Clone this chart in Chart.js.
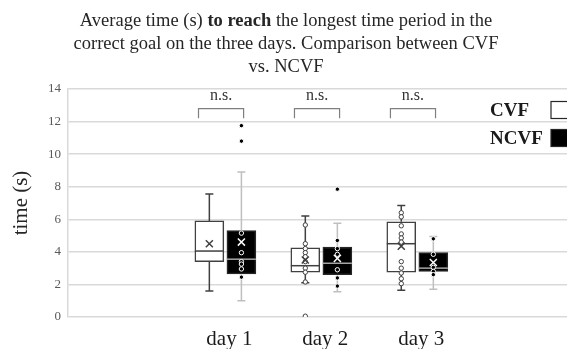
<!DOCTYPE html>
<html>
<head>
<meta charset="utf-8">
<script src="https://cdn.jsdelivr.net/npm/chart.js@4.4.0/dist/chart.umd.min.js"></script>
<style>
  html, body { margin: 0; padding: 0; background: #ffffff; overflow: hidden; }
  canvas { display: block; }
</style>
</head>
<body>
<canvas id="boxChart" width="567" height="349"></canvas>
<script>
// =========================================
// DATA
// =========================================

const dayLabels = ["day 1", "day 2", "day 3"];

const cvfMin    = [1.6, 2.1, 1.65];
const cvfQ1     = [3.4, 2.75, 2.75];
const cvfMedian = [4.05, 3.15, 4.5];
const cvfQ3     = [5.9, 4.25, 5.85];
const cvfMax    = [7.55, 6.2, 6.85];
const cvfMean   = [4.5, 3.5, 4.35];
const cvfPoints = [
  [],
  [5.65, 4.5, 4.2, 3.95, 3.7, 3.4, 3.0, 2.75, 2.15, 0.05],
  [6.4, 6.15, 5.6, 5.1, 4.85, 4.6, 3.4, 3.0, 2.7, 2.35, 2.05]
];

const ncvfMin    = [1.0, 1.55, 1.7];
const ncvfQ1     = [2.65, 2.6, 2.8];
const ncvfMedian = [3.55, 3.3, 3.0];
const ncvfQ3     = [5.3, 4.3, 3.95];
const ncvfMax    = [8.9, 5.75, 4.95];
const ncvfMean   = [4.6, 3.6, 3.35];
const ncvfPoints = [
  [11.75, 10.8, 5.15, 3.95, 3.4, 3.25, 2.95, 2.45],
  [7.85, 4.7, 4.2, 3.85, 2.9, 2.4, 1.9],
  [4.8, 3.85, 3.05, 2.8, 2.6]
];

const signifLabels = ["n.s.", "n.s.", "n.s."];

const titleLines = [
  [["Average time (s) ", false], ["to reach", true], [" the longest time period in the", false]],
  [["correct goal on the three days. Comparison between CVF", false]],
  [["vs. NCVF", false]]
];


// =========================================
// HELPERS
// =========================================

const serif = "'Liberation Serif', 'Times New Roman', serif";
const boxShift = 0.167;

function boxData(q1, q3, shift) {
  return q1.map((v, i) => ({ x: i + 1 + shift, y: [v, q3[i]] }));
}

function meanData(mean, shift) {
  return mean.map((v, i) => ({ x: i + 1 + shift, y: v }));
}

function pointData(points, shift) {
  const out = [];
  points.forEach((list, i) => list.forEach(v => out.push({ x: i + 1 + shift, y: v })));
  return out;
}


// =========================================
// BOX PLOT PARTS (whiskers, medians, labels)
// =========================================

const boxPlugin = {
  id: "boxParts",

  beforeDatasetsDraw(chart) {
    const ctx = chart.ctx;
    const y = chart.scales.y;
    chart.data.datasets.forEach((ds, di) => {
      if (!ds.stats) return;
      const meta = chart.getDatasetMeta(di);
      ctx.save();
      ctx.strokeStyle = ds.stats.whiskerColor;
      ctx.lineWidth = 1.5;
      meta.data.forEach((bar, i) => {
        const cx = bar.x;
        const yMin = y.getPixelForValue(ds.stats.min[i]);
        const yMax = y.getPixelForValue(ds.stats.max[i]);
        const yQ1 = y.getPixelForValue(ds.data[i].y[0]);
        const yQ3 = y.getPixelForValue(ds.data[i].y[1]);
        ctx.beginPath();
        ctx.moveTo(cx, yMax); ctx.lineTo(cx, yQ3);
        ctx.moveTo(cx, yQ1); ctx.lineTo(cx, yMin);
        ctx.moveTo(cx - 4, yMax); ctx.lineTo(cx + 4, yMax);
        ctx.moveTo(cx - 4, yMin); ctx.lineTo(cx + 4, yMin);
        ctx.stroke();
      });
      ctx.restore();
    });
  },

  afterDatasetDraw(chart, args) {
    const ds = chart.data.datasets[args.index];
    if (!ds.stats) return;
    const ctx = chart.ctx;
    const y = chart.scales.y;
    ctx.save();
    ctx.strokeStyle = ds.stats.medianColor;
    ctx.lineWidth = 1.5;
    args.meta.data.forEach((bar, i) => {
      const py = y.getPixelForValue(ds.stats.median[i]);
      ctx.beginPath();
      ctx.moveTo(bar.x - bar.width / 2, py);
      ctx.lineTo(bar.x + bar.width / 2, py);
      ctx.stroke();
    });
    ctx.restore();
  },

  afterDraw(chart) {
    const ctx = chart.ctx;
    const x = chart.scales.x;
    const y = chart.scales.y;
    ctx.save();

    // title
    ctx.fillStyle = "#262626";
    ctx.textBaseline = "alphabetic";
    const baselines = [26, 49, 71.5];
    titleLines.forEach((runs, li) => {
      let total = 0;
      runs.forEach(r => {
        ctx.font = (r[1] ? "bold " : "") + "18.5px " + serif;
        total += ctx.measureText(r[0]).width;
      });
      let cx = 286 - total / 2;
      runs.forEach(r => {
        ctx.font = (r[1] ? "bold " : "") + "18.5px " + serif;
        ctx.textAlign = "left";
        ctx.fillText(r[0], cx, baselines[li]);
        cx += ctx.measureText(r[0]).width;
      });
    });

    // significance brackets
    signifLabels.forEach((lab, i) => {
      const left = x.getPixelForValue(i + 1 - 0.28);
      const right = x.getPixelForValue(i + 1 + 0.19);
      const top = y.getPixelForValue(12.8);
      const bottom = y.getPixelForValue(12.2);
      ctx.strokeStyle = "#7f7f7f";
      ctx.lineWidth = 1.2;
      ctx.beginPath();
      ctx.moveTo(left, bottom); ctx.lineTo(left, top);
      ctx.lineTo(right, top); ctx.lineTo(right, bottom);
      ctx.stroke();
      ctx.fillStyle = "#333333";
      ctx.font = "16px " + serif;
      ctx.textAlign = "center";
      ctx.fillText(lab, (left + right) / 2, y.getPixelForValue(13.3));
    });

    // legend
    ctx.font = "bold 19px " + serif;
    ctx.textAlign = "left";
    ctx.textBaseline = "middle";
    chart.data.datasets.filter(d => d.stats).forEach((ds, i) => {
      const cy = 110 + i * 28;
      ctx.fillStyle = "#1a1a1a";
      ctx.fillText(ds.label, 490, cy + 1);
      ctx.fillStyle = ds.backgroundColor;
      ctx.fillRect(551, cy - 8.5, 20, 17);
      ctx.strokeStyle = "#262626";
      ctx.lineWidth = 1.2;
      ctx.strokeRect(551, cy - 8.5, 20, 17);
    });

    ctx.restore();
  }
};


// =========================================
// CHART
// =========================================

const boxCtx = document.getElementById("boxChart");

new Chart(boxCtx, {

  type: "bar",

  data: {
    datasets: [
      {
        type: "scatter",
        label: "CVF mean",
        data: meanData(cvfMean, -boxShift),
        pointStyle: "crossRot",
        pointRadius: 5,
        borderColor: "#404040",
        borderWidth: 1.5,
        order: 0
      },
      {
        type: "scatter",
        label: "NCVF mean",
        data: meanData(ncvfMean, boxShift),
        pointStyle: "crossRot",
        pointRadius: 5,
        borderColor: "#ffffff",
        borderWidth: 1.5,
        order: 0
      },
      {
        type: "scatter",
        label: "CVF points",
        data: pointData(cvfPoints, -boxShift),
        pointRadius: 2.2,
        backgroundColor: "#ffffff",
        borderColor: "#404040",
        borderWidth: 1,
        order: 1
      },
      {
        type: "scatter",
        label: "NCVF points",
        data: pointData(ncvfPoints, boxShift),
        pointRadius: 2.2,
        backgroundColor: "#000000",
        borderColor: "#ffffff",
        borderWidth: 1,
        order: 1
      },
      {
        label: "CVF",
        data: boxData(cvfQ1, cvfQ3, -boxShift),
        backgroundColor: "#ffffff",
        borderColor: "#404040",
        borderWidth: 1.5,
        borderSkipped: false,
        barThickness: 29,
        grouped: false,
        order: 3,
        stats: { min: cvfMin, median: cvfMedian, max: cvfMax, whiskerColor: "#404040", medianColor: "#404040" }
      },
      {
        label: "NCVF",
        data: boxData(ncvfQ1, ncvfQ3, boxShift),
        backgroundColor: "#000000",
        borderColor: "#262626",
        borderWidth: 1.5,
        borderSkipped: false,
        barThickness: 29,
        grouped: false,
        order: 3,
        stats: { min: ncvfMin, median: ncvfMedian, max: ncvfMax, whiskerColor: "#bfbfbf", medianColor: "#a6a6a6" }
      }
    ]
  },

  options: {

    responsive: false,

    animation: false,

    layout: {
      autoPadding: false,
      padding: { top: 89, right: 0, bottom: 0, left: 0 }
    },

    plugins: {
      legend: { display: false },
      tooltip: { enabled: false }
    },

    scales: {
      x: {
        type: "linear",
        min: -0.64,
        max: 4.56,
        offset: false,
        grid: { display: false, drawTicks: false, offset: false },
        border: { display: false },
        afterBuildTicks(scale) {
          scale.ticks = dayLabels.map((d, i) => ({ value: i + 1 }));
        },
        ticks: {
          callback: (v) => dayLabels[v - 1] || "",
          color: "#1a1a1a",
          font: { family: serif, size: 21 },
          padding: 10,
          labelOffset: 4,
          autoSkip: false,
          maxRotation: 0
        },
        afterFit(scale) {
          scale.height = 32;
          scale.paddingLeft = 0;
          scale.paddingRight = 0;
        }
      },
      y: {
        min: 0,
        max: 14,
        ticks: {
          stepSize: 2,
          color: "#595959",
          font: { family: serif, size: 13 },
          padding: 7
        },
        grid: { color: "#d9d9d9", lineWidth: 1.5, drawTicks: false },
        border: { display: true, color: "#d9d9d9", width: 1.5 },
        title: {
          display: true,
          text: "time (s)",
          color: "#262626",
          font: { family: serif, size: 21 },
          padding: { top: 9, bottom: 0 }
        },
        afterFit(scale) { scale.width = 68; }
      }
    }
  },

  plugins: [boxPlugin]
});
</script>
</body>
</html>
